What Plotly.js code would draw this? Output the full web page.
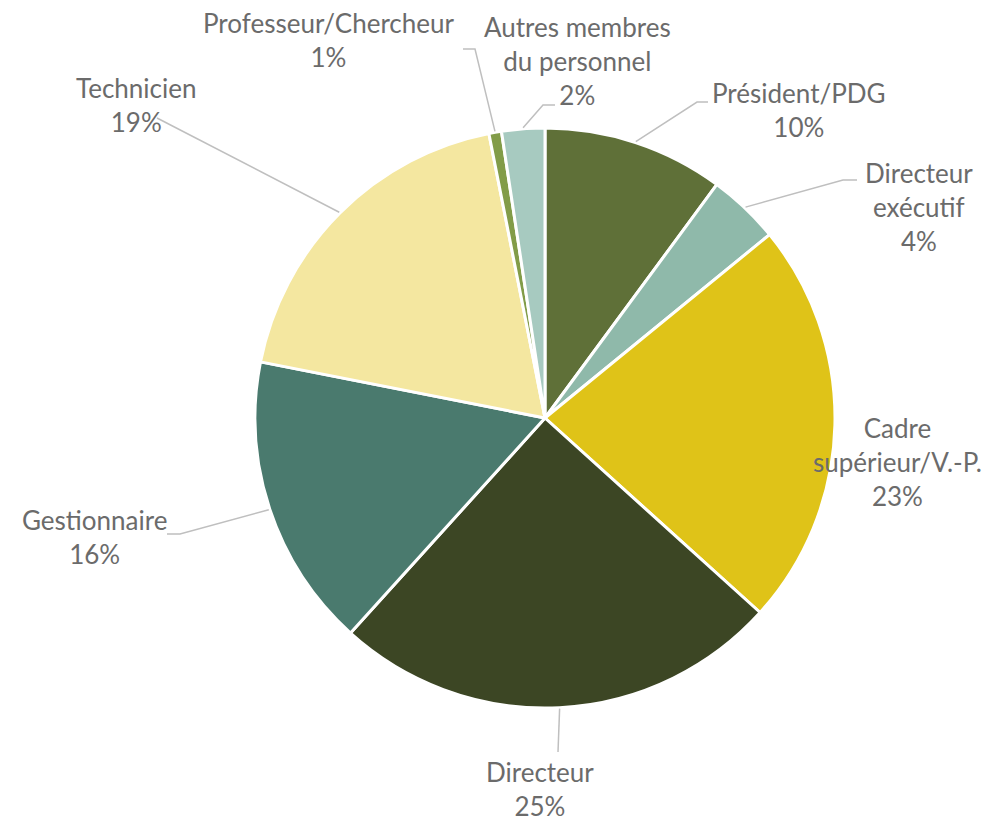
<!DOCTYPE html>
<html>
<head>
<meta charset="utf-8">
<script src="https://cdn.plot.ly/plotly-3.0.1.min.js"></script>
<style>html,body{margin:0;padding:0;background:#fff;}#chart{width:1000px;height:824px;}</style>
</head>
<body>
<div id="chart"></div>
<script>
// ---- data ----
var categories = ["Président/PDG", "Directeur exécutif", "Cadre supérieur/V.-P.", "Directeur",
                  "Gestionnaire", "Technicien", "Professeur/Chercheur", "Autres membres du personnel"];
var displayLabels = ["Président/PDG", "Directeur<br>exécutif", "Cadre<br>supérieur/V.-P.", "Directeur",
                     "Gestionnaire", "Technicien", "Professeur/Chercheur", "Autres membres<br>du personnel"];
var values = [10.1, 4.0, 22.6, 25.0, 16.4, 18.8, 0.7, 2.4];
var colors = ["#5f7038", "#8fb9aa", "#dfc318", "#3c4624", "#4a7a6e", "#f4e7a0", "#829c48", "#a7cac0"];

// ---- layout constants (pixels) ----
var W = 1000, H = 824;
var cx = 545, cy = 418, R = 290;
// label centres
var labelPos = [[799,110],[919,207],[897,462],[540,789],[94,537],[136,105],[328,40],[577,61]];
// leader line: elbow and end points (null => no leader line)
var leader = [
  [[697,102],[708,102]],
  [[843,180],[857,180]],
  null,
  [[558,752],[558,752]],
  [[180,534],[167,534]],
  [[157,118],[157,118]],
  [[475,49],[463,49]],
  [[543,105],[555,105]]
];

function px(x){return x/W;}
function py(y){return 1-y/H;}

var total = values.reduce(function(a,b){return a+b;},0);
var annotations = [], shapes = [];
var cum = 0;
values.forEach(function(v,i){
  var mid = (cum + v/2)/total*2*Math.PI;
  cum += v;
  var sx = cx + (R+1)*Math.sin(mid), sy = cy - (R+1)*Math.cos(mid);
  var pct = Math.round(v/total*100) + "%";
  annotations.push({
    xref:"paper", yref:"paper", x:px(labelPos[i][0]), y:py(labelPos[i][1]),
    xanchor:"center", yanchor:"middle", showarrow:false, align:"center",
    text: displayLabels[i] + "<br>" + pct,
    font:{family:"Lato, 'Open Sans', sans-serif", size:26, color:"#6b6b6b"}
  });
  if (leader[i]) {
    var e = leader[i][0], f = leader[i][1];
    shapes.push({
      type:"path", xref:"paper", yref:"paper",
      path:"M "+px(sx)+","+py(sy)+" L "+px(e[0])+","+py(e[1])+" L "+px(f[0])+","+py(f[1]),
      line:{color:"#bfbfbf", width:1.5}
    });
  }
});

var trace = {
  type:"pie",
  labels: categories,
  values: values,
  sort:false,
  direction:"clockwise",
  rotation:0,
  textinfo:"none",
  hoverinfo:"label+percent",
  marker:{colors:colors, line:{color:"#ffffff", width:3}},
  domain:{x:[px(cx-R), px(cx+R)], y:[py(cy+R), py(cy-R)]},
  showlegend:false
};

var layout = {
  width:W, height:H,
  margin:{l:0,r:0,t:0,b:0},
  paper_bgcolor:"#ffffff",
  showlegend:false,
  annotations:annotations,
  shapes:shapes
};

Plotly.newPlot("chart",[trace],layout,{displayModeBar:false, staticPlot:true});
</script>
</body>
</html>
